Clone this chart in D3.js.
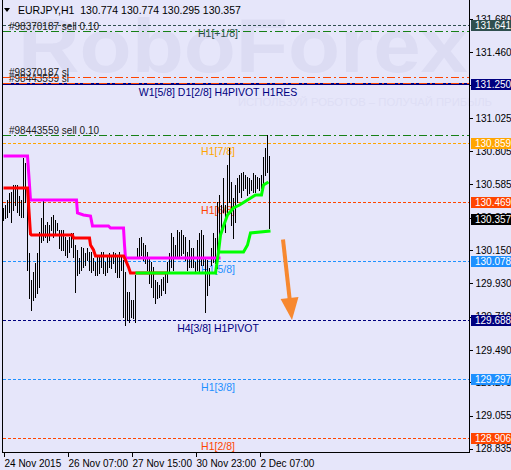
<!DOCTYPE html>
<html>
<head>
<meta charset="utf-8">
<script src="https://d3js.org/d3.v7.min.js"></script>
<style>
body { margin:0; background:#E6E6FA; }
svg { display:block; font-family:"Liberation Sans", Arial, sans-serif; }
</style>
</head>
<body>
<div id="chart"></div>
<script>
var title = "EURJPY,H1  130.774 130.774 130.295 130.357";

var highs = [
130.429,130.449,130.482,130.528,130.535,130.581,130.581,130.581,130.508,130.482,
130.760,130.727,130.535,130.131,129.952,130.005,130.065,130.131,130.270,130.363,
130.475,130.316,130.336,130.316,130.369,130.383,130.350,130.330,130.283,130.283,
130.283,130.237,130.217,130.237,130.264,130.264,130.184,130.151,130.098,130.171,
130.164,130.131,130.164,130.138,130.138,130.098,130.072,130.118,130.118,130.138,
130.138,130.072,130.104,130.131,130.118,130.138,130.131,130.118,130.138,130.104,
130.085,130.005,129.873,129.873,129.820,129.820,129.985,130.164,130.230,130.237,
130.197,130.184,130.138,130.104,130.072,130.038,129.952,129.939,129.919,129.959,
129.972,129.999,130.072,130.131,130.264,130.237,130.184,130.283,130.270,130.283,
130.250,130.237,130.138,130.217,130.164,130.164,130.072,130.217,130.264,130.283,
130.250,130.098,130.085,130.032,130.164,130.264,130.230,130.469,130.515,130.449,
130.628,130.449,130.714,130.826,130.601,130.495,130.581,130.628,130.648,130.661,
130.667,130.648,130.634,130.628,130.614,130.661,130.648,130.634,130.628,130.648,
130.767,130.826,130.913,130.774];

var lows = [
130.350,130.363,130.369,130.403,130.336,130.416,130.449,130.403,130.383,130.369,
130.369,130.469,130.019,129.833,129.754,129.820,129.840,129.866,129.906,130.204,
130.217,130.237,130.204,130.217,130.283,130.237,130.264,130.283,130.164,130.151,
130.151,130.118,130.104,130.138,130.171,130.104,129.873,129.985,129.999,130.019,
130.038,130.052,130.085,130.019,130.005,130.019,129.985,129.985,129.999,130.038,
129.999,129.985,130.005,130.038,130.032,130.065,130.005,129.972,129.972,130.019,
129.707,129.654,129.687,129.674,129.707,129.701,129.674,130.098,130.098,130.118,
130.085,130.065,130.019,129.932,129.906,129.840,129.800,129.833,129.840,129.853,
129.886,129.866,129.939,129.999,130.038,130.019,130.104,130.098,130.104,130.118,
130.131,130.085,130.019,130.038,130.038,130.038,129.999,130.019,130.005,130.052,
130.052,129.740,129.853,129.919,130.052,130.072,130.065,130.032,130.138,130.297,
130.403,130.270,130.383,130.469,130.316,130.230,130.336,130.469,130.535,130.502,
130.548,130.561,130.515,130.528,130.548,130.535,130.535,130.561,130.548,130.561,
130.568,130.648,130.667,130.295];

// indicator lines as [bar, price]
var magentaLine = [[0,130.774],[12,130.774],[13,130.581],[13.5,130.482],[36.5,130.482],[37,130.396],[40,130.383],[43.5,130.376],[44.5,130.310],[52.5,130.310],[53.5,130.297],[60,130.297],[60.5,130.184],[61,130.098],[108.5,130.098]];
var redLine = [[0,130.561],[12,130.561],[13.5,130.257],[14,130.250],[34.5,130.250],[35,130.230],[43,130.230],[43.5,130.184],[45,130.151],[46,130.111],[60,130.111],[61,130.085],[62.5,130.038],[63.5,129.999],[82,129.999]];
var greenSlow = [[66,129.999],[106,129.999],[107.5,130.138],[120,130.138],[122,130.184],[123.5,130.264],[133.5,130.277]];
var greenFast = [[107.5,130.138],[108.5,130.250],[110,130.310],[112,130.383],[115,130.429],[118,130.449],[122,130.482],[126,130.515],[129,130.515],[130,130.581],[132.5,130.601]];

var levelPrices = [131.641, 130.859, 130.469, 130.078, 129.688, 129.297, 128.906];
var levelNames = ["H1[+1/8]", "H1[7/8]", "H1[6/8]", "H1[5/8]", "H4[3/8] H1PIVOT", "H1[3/8]", "H1[2/8]"];
var levelColors = ["#2F4F4F", "#FFA500", "#FF4500", "#1E90FF", "#000080", "#1E90FF", "#FF4500"];
var pivotPrice = 131.250;
var pivotName = "W1[5/8] D1[2/8] H4PIVOT H1RES";

var orderPrices = [131.601, 131.297, 131.257, 130.913];
var orderNames = ["#98370187 sell 0.10", "#98370187 sl", "#98443559 sl", "#98443559 sell 0.10"];
var orderColors = ["#168016", "#FF4500", "#FF4500", "#168016"];

var lastPrice = 130.357;
var axisTicks = [131.680, 131.460, 131.245, 131.025, 130.805, 130.585, 130.365, 130.150, 129.930, 129.710, 129.490, 129.275, 129.055, 128.835];
var timeTickBars = [0, 32, 64, 96, 128];
var timeTickLabels = ["24 Nov 2015", "26 Nov 07:00", "27 Nov 15:00", "30 Nov 23:00", "2 Dec 07:00"];
var arrowPath = [[140, 130.22], [144.5, 129.688]];

var W = 511, H = 470;
var plotL = 2, plotR = 469, plotB = 452;

var svg = d3.select("#chart")
.append("svg")
.attr("width", W)
.attr("height", H);

svg.append("rect")
.attr("width", W)
.attr("height", H)
.attr("fill", "#E6E6FA");

var x = d3.scaleLinear().domain([0, 232.5]).range([3, 468]);
var y = d3.scaleLinear().domain([131.641, 128.906]).range([25, 438]);

function py(p)
{
	return Math.round(y(p)) + 0.5;
}

// watermark
svg.append("text")
.attr("x", 18)
.attr("y", 72)
.attr("font-size", 76)
.attr("font-weight", "bold")
.attr("fill", "#DCDCF3")
.attr("textLength", 450)
.attr("lengthAdjust", "spacingAndGlyphs")
.text("RoboForex");

svg.append("text")
.attr("x", 238)
.attr("y", 106)
.attr("font-size", 11)
.attr("fill", "#DEDEF5")
.attr("textLength", 254)
.attr("lengthAdjust", "spacingAndGlyphs")
.text("ИСПОЛЬЗУЙ РОБОТОВ – ПОЛУЧАЙ ПРИБЫЛЬ");

// title
svg.append("path")
.attr("d", "M4,8 L10,8 L7,12 Z")
.attr("fill", "#000");

svg.append("text")
.attr("x", 18)
.attr("y", 14)
.attr("font-size", 10.5)
.attr("fill", "#000")
.attr("xml:space", "preserve")
.text(title);

// murrey levels
var lev = svg.append("g");
lev.selectAll("line")
.data(levelPrices)
.enter()
.append("line")
.attr("x1", plotL + 1)
.attr("x2", plotR)
.attr("y1", function(d) { return py(d); })
.attr("y2", function(d) { return py(d); })
.attr("stroke", function(d, i) { return levelColors[i]; })
.attr("stroke-dasharray", "3,2")
.attr("shape-rendering", "crispEdges");

lev.selectAll("text")
.data(levelPrices)
.enter()
.append("text")
.attr("x", 218)
.attr("y", function(d) { return py(d) + 11; })
.attr("text-anchor", "middle")
.attr("font-size", 10.5)
.attr("fill", function(d, i) { return levelColors[i]; })
.text(function(d, i) { return levelNames[i]; });

svg.append("line")
.attr("x1", plotL + 1)
.attr("x2", plotR)
.attr("y1", Math.round(y(pivotPrice)))
.attr("y2", Math.round(y(pivotPrice)))
.attr("stroke", "#000080")
.attr("stroke-width", 2);

svg.append("text")
.attr("x", 218)
.attr("y", py(pivotPrice) + 11)
.attr("text-anchor", "middle")
.attr("font-size", 10.5)
.attr("fill", "#000080")
.text(pivotName);

// order lines
var ord = svg.append("g");
ord.selectAll("text")
.data(orderPrices)
.enter()
.append("text")
.attr("x", 9)
.attr("y", function(d) { return py(d) - 2; })
.attr("font-size", 10)
.attr("fill", "#202020")
.text(function(d, i) { return orderNames[i]; });

ord.selectAll("line")
.data(orderPrices)
.enter()
.append("line")
.attr("x1", plotL + 1)
.attr("x2", plotR)
.attr("y1", function(d) { return py(d); })
.attr("y2", function(d) { return py(d); })
.attr("stroke", function(d, i) { return orderColors[i]; })
.attr("stroke-dasharray", "8,3,2,3")
.attr("shape-rendering", "crispEdges");

// bars
svg.append("g")
.selectAll("line")
.data(highs)
.enter()
.append("line")
.attr("x1", function(d, i) { return Math.round(x(i)) + 0.5; })
.attr("x2", function(d, i) { return Math.round(x(i)) + 0.5; })
.attr("y1", function(d) { return Math.round(y(d)); })
.attr("y2", function(d, i) { return Math.round(y(lows[i])) + 1; })
.attr("stroke", "#000")
.attr("shape-rendering", "crispEdges");

// indicators
var line = d3.line()
.x(function(d) { return x(d[0]) + 0.5; })
.y(function(d) { return y(d[1]); });

var inds = [[magentaLine, "#FF00FF"], [redLine, "#FF0000"], [greenSlow, "#00FF00"], [greenFast, "#00FF00"]];
svg.append("g")
.selectAll("path")
.data(inds)
.enter()
.append("path")
.attr("d", function(d) { return line(d[0]); })
.attr("fill", "none")
.attr("stroke", function(d) { return d[1]; })
.attr("stroke-width", 3)
.attr("stroke-linejoin", "miter");

// arrow
var ax0 = x(arrowPath[0][0]), ay0 = y(arrowPath[0][1]);
var ax1 = x(arrowPath[1][0]), ay1 = y(arrowPath[1][1]);
var len = Math.sqrt((ax1-ax0)*(ax1-ax0) + (ay1-ay0)*(ay1-ay0));
var ux = (ax1-ax0)/len, uy = (ay1-ay0)/len;
var hl = 22, hw = 9;
var bx = ax1 - ux*hl, by = ay1 - uy*hl;
svg.append("line")
.attr("x1", ax0)
.attr("y1", ay0)
.attr("x2", bx + ux*2)
.attr("y2", by + uy*2)
.attr("stroke", "#F7882F")
.attr("stroke-width", 4);
svg.append("path")
.attr("d", "M" + ax1 + "," + ay1 + " L" + (bx - uy*hw) + "," + (by + ux*hw) + " L" + (bx + uy*hw) + "," + (by - ux*hw) + " Z")
.attr("fill", "#F7882F");

// frame
svg.append("path")
.attr("d", "M2.5,0 V" + (plotB + 0.5) + " H" + (plotR + 0.5) + " V0")
.attr("fill", "none")
.attr("stroke", "#000")
.attr("shape-rendering", "crispEdges");

// price axis
var yAxis = svg.append("g")
.attr("transform", "translate(" + (plotR + 0.5) + ",0)")
.call(d3.axisRight(y).tickValues(axisTicks).tickSize(3).tickPadding(3).tickFormat(d3.format(".3f")));
yAxis.select(".domain").remove();
yAxis.selectAll("text")
.attr("font-family", "Liberation Sans, Arial, sans-serif")
.attr("font-size", 10)
.attr("fill", "#000");
yAxis.selectAll("line").attr("stroke", "#000").attr("shape-rendering", "crispEdges");

// time axis
var xAxis = svg.append("g")
.attr("transform", "translate(0," + (plotB + 0.5) + ")")
.call(d3.axisBottom(x).tickValues(timeTickBars).tickSize(4).tickPadding(3)
.tickFormat(function(d, i) { return timeTickLabels[i]; }));
xAxis.select(".domain").remove();
xAxis.selectAll("line").attr("stroke", "#000").attr("shape-rendering", "crispEdges");
xAxis.selectAll(".tick line").attr("transform", "translate(0.5,0)");
xAxis.selectAll("text")
.attr("text-anchor", "start")
.attr("dx", 1)
.attr("font-family", "Liberation Sans, Arial, sans-serif")
.attr("font-size", 10)
.attr("fill", "#000");

// price boxes
var boxPrices = levelPrices.concat([pivotPrice, lastPrice]);
var boxColors = levelColors.concat(["#000080", "#000000"]);
var boxes = svg.append("g")
.selectAll("g")
.data(boxPrices)
.enter()
.append("g")
.attr("transform", function(d) { return "translate(471," + (Math.round(y(d)) - 5) + ")"; });
boxes.append("rect")
.attr("width", 40)
.attr("height", 11)
.attr("fill", function(d, i) { return boxColors[i]; });
boxes.append("text")
.attr("x", 4)
.attr("y", 9)
.attr("font-size", 10)
.attr("fill", "#fff")
.text(function(d) { return d3.format(".3f")(d); });
</script>
</body>
</html>
